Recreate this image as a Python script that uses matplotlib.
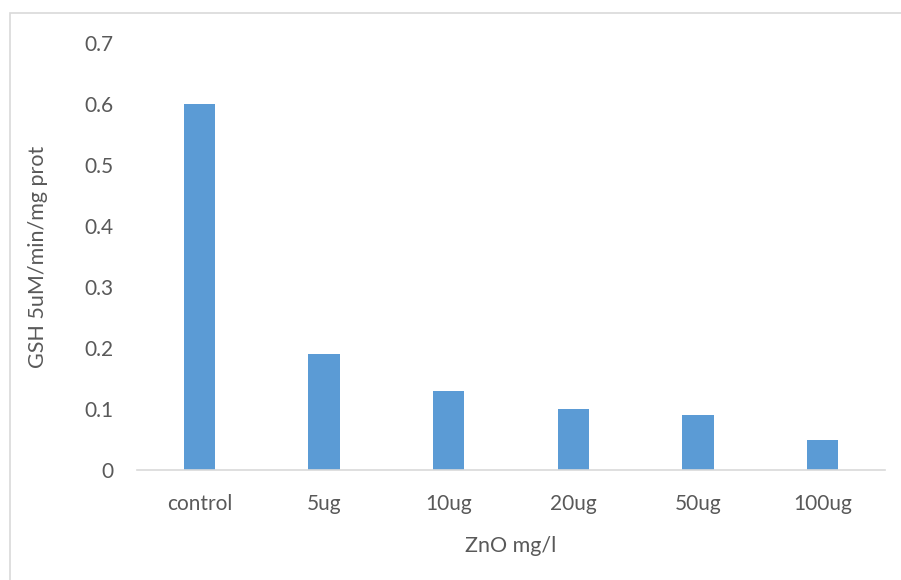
import matplotlib.pyplot as plt
import matplotlib
from matplotlib.patches import Rectangle

matplotlib.rc('font', family='Lato')

# データ
categories = ['control', '5ug', '10ug', '20ug', '50ug', '100ug']
gsh_values = [0.60, 0.19, 0.13, 0.10, 0.09, 0.05]
y_ticks = [0, 0.1, 0.2, 0.3, 0.4, 0.5, 0.6, 0.7]

text_color = '#595959'
bar_color = '#5b9bd5'

fig = plt.figure(figsize=(9.01, 5.8), dpi=100)
ax = fig.add_axes([137 / 901, 1 - 470 / 580, 748 / 901, 427 / 580])

# 外枠（右と下は切れている）
fig.patches.append(Rectangle((10 / 901, -0.05), 1.1, 1 - 13 / 580 + 0.05,
                             transform=fig.transFigure, fill=False,
                             edgecolor='#d9d9d9', linewidth=1.2))

ax.bar(range(len(categories)), gsh_values, width=0.25, color=bar_color)

ax.set_xlim(-0.5, len(categories) - 0.5)
ax.set_ylim(0, 0.7)
ax.set_xticks(range(len(categories)))
ax.set_xticklabels(categories)
ax.set_yticks(y_ticks)
ax.set_yticklabels(['0' if v == 0 else f'{v:.1f}' for v in y_ticks])

for side in ['top', 'right', 'left']:
    ax.spines[side].set_visible(False)
ax.spines['bottom'].set_color('#d9d9d9')
ax.spines['bottom'].set_linewidth(1.2)

ax.tick_params(axis='both', length=0, labelsize=15, colors=text_color)
ax.tick_params(axis='x', pad=17)
ax.tick_params(axis='y', pad=17)

ax.set_xlabel('ZnO mg/l', fontsize=15.5, color=text_color, labelpad=16)
ax.set_ylabel('GSH 5uM/min/mg prot', fontsize=15.5, color=text_color, labelpad=26)

plt.savefig('out.png', dpi=100)
